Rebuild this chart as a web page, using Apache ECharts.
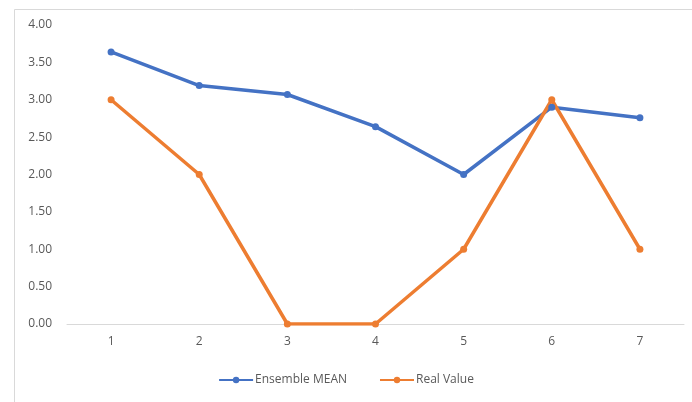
<!DOCTYPE html>
<html><head><meta charset="utf-8">
<script src="https://cdn.jsdelivr.net/npm/echarts@6/dist/echarts.min.js"></script>
<style>html,body{margin:0;padding:0;background:#fff}#c{width:692px;height:402px}</style>
</head><body><div id="c"></div>
<script>
var categories = ['1','2','3','4','5','6','7'];
var ensembleMean = [3.64, 3.19, 3.07, 2.64, 2.00, 2.90, 2.76];
var realValue = [3, 2, 0, 0, 1, 3, 1];
var seriesNames = ['Ensemble MEAN', 'Real Value'];

var chart = echarts.init(document.getElementById('c'), null, {renderer:'canvas'});
var font = '"Open Sans", Calibri, "Liberation Sans", sans-serif';
chart.setOption({
  animation: false,
  backgroundColor: '#fff',
  graphic: [{
    type: 'rect', left: 12, top: 7, shape: {width: 700, height: 420},
    style: {fill: 'none', stroke: '#d9d9d9', lineWidth: 1}, silent: true
  }],
  grid: {left: 67, right: 8, top: 25, bottom: 78, containLabel: false},
  legend: {
    data: seriesNames, bottom: 11, left: 'center', itemGap: 32,
    itemWidth: 34, itemHeight: 8,
    textStyle: {color: '#595959', fontSize: 12, fontFamily: font, padding: [0,0,0,-3]}
  },
  xAxis: {
    type: 'category', data: categories, boundaryGap: true,
    axisLine: {lineStyle: {color: '#d9d9d9', width: 1}},
    axisTick: {show: false},
    axisLabel: {color: '#595959', fontSize: 12, fontFamily: font, margin: 12}
  },
  yAxis: {
    type: 'value', min: 0, max: 4, interval: 0.5,
    axisLine: {show: false}, axisTick: {show: false},
    splitLine: {show: false},
    axisLabel: {color: '#595959', fontSize: 12, fontFamily: font, margin: 15,
      formatter: function(v){ return v.toFixed(2); }}
  },
  series: [
    {name: seriesNames[0], type: 'line', data: ensembleMean, symbol: 'circle', symbolSize: 7,
     lineStyle: {color: '#4472C4', width: 3.5}, itemStyle: {color: '#4472C4'}},
    {name: seriesNames[1], type: 'line', data: realValue, symbol: 'circle', symbolSize: 7,
     lineStyle: {color: '#ED7D31', width: 3.5}, itemStyle: {color: '#ED7D31'}}
  ]
});
</script></body></html>
